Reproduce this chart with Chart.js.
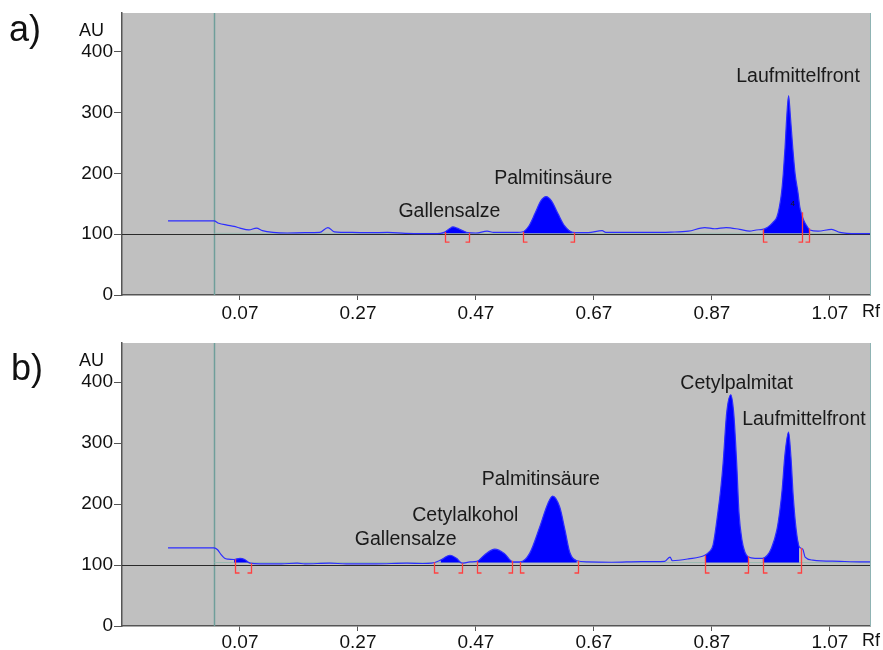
<!DOCTYPE html>
<html lang="de">
<head>
<meta charset="utf-8">
<title>Densitogramm</title>
<script src="https://cdn.jsdelivr.net/npm/chart.js@4.4.1/dist/chart.umd.min.js"></script>
<style>
  body { margin: 0; background: #fff; }
  .panel { position: absolute; left: 0; width: 883px; }
  #panelA { top: 0; height: 320px; }
  #panelB { top: 320px; height: 330px; }
</style>
</head>
<body>
<div class="panel" id="panelA"><canvas id="chartA"></canvas></div>
<div class="panel" id="panelB"><canvas id="chartB"></canvas></div>
<script>
const xTicks = [0.07, 0.27, 0.47, 0.67, 0.87, 1.07];
const yTicks = [0, 100, 200, 300, 400];
const startLineRf = 0.026;

// a)
const rfA = [-0.052, 0.026, 0.034, 0.048, 0.06, 0.07, 0.085, 0.098, 0.108, 0.126, 0.15, 0.18, 0.205, 0.219, 0.23,
  0.26, 0.29, 0.32, 0.35, 0.38, 0.41, 0.416, 0.425, 0.431, 0.438, 0.447, 0.456, 0.47, 0.489, 0.5, 0.52, 0.54,
  0.55, 0.56, 0.57, 0.58, 0.589, 0.598, 0.609, 0.62, 0.634, 0.66, 0.684, 0.69, 0.72, 0.76, 0.8, 0.83, 0.858,
  0.875, 0.894, 0.917, 0.934, 0.945, 0.956, 0.962, 0.969, 0.975, 0.98, 0.984, 0.988, 0.991, 0.994, 0.997, 1.0,
  1.003, 1.007, 1.011, 1.016, 1.019, 1.022, 1.026, 1.03, 1.036, 1.05, 1.073, 1.087, 1.115, 1.138];
const auA = [122, 122, 118, 115, 113, 110, 107, 110, 106, 103, 102, 102.5, 103, 111, 104,
  103, 102.5, 103, 101.5, 101, 101.5, 103, 109, 112, 110, 106, 102.5, 102, 105, 103, 103, 103,
  104, 114, 134, 155, 162, 155, 134, 114, 103, 102.5, 106, 103, 103, 103, 103.5, 105, 111,
  109, 111, 108, 105, 107, 108, 110, 115, 121, 128, 143, 168, 200, 243, 295, 328,
  295, 243, 200, 168, 145, 133, 122, 115, 107, 105, 108, 103, 101, 101];
const bracketsA = [[0.417, 0.458], [0.550, 0.636], [0.956, 1.034]];
const splitsA = [[1.022, 136]];
const labelsA = [
  { text: 'Gallensalze', rf: 0.425, au: 137 },
  { text: 'Palmitinsäure', rf: 0.601, au: 191 },
  { text: 'Laufmittelfront', rf: 1.016, au: 359 },
  { text: '4', rf: 1.007, au: 150, small: true }
];

// b)
const rfB = [-0.052, 0.026, 0.032, 0.038, 0.044, 0.05, 0.06, 0.07, 0.078, 0.087, 0.104, 0.14, 0.167, 0.18, 0.222,
  0.25, 0.3, 0.353, 0.38, 0.395, 0.41, 0.426, 0.437, 0.446, 0.46, 0.472, 0.485, 0.502, 0.518, 0.533,
  0.545, 0.561, 0.578, 0.592, 0.6, 0.612, 0.621, 0.629, 0.641, 0.66, 0.7, 0.75, 0.79, 0.799, 0.803, 0.83,
  0.858, 0.865, 0.872, 0.88, 0.885, 0.889, 0.895, 0.902, 0.907, 0.912, 0.916, 0.921, 0.926, 0.932, 0.943, 0.956,
  0.964, 0.971, 0.98, 0.985, 0.989, 0.994, 1.0, 1.004, 1.008, 1.013, 1.018, 1.024, 1.028, 1.041, 1.087, 1.126, 1.138];
const auB = [128, 128, 125, 117, 111, 109.5, 109, 111, 109, 103, 102, 102, 103, 102, 103,
  102, 102, 103, 102.5, 103, 108, 116, 111, 103, 105, 106, 117, 126, 119, 105,
  105, 119, 162, 201, 213, 195, 157, 121, 107, 105, 104.5, 105.5, 106, 113, 107, 110,
  116, 121, 133, 185, 225, 267, 349, 379, 349, 267, 185, 141, 121, 113, 111, 111,
  116, 128, 157, 188, 223, 283, 318, 277, 211, 157, 130, 126, 113, 108, 106, 105, 105];
const bracketsB = [[0.062, 0.089], [0.399, 0.446], [0.472, 0.531], [0.545, 0.643], [0.858, 0.931], [0.956, 1.021]];
const splitsB = [];
const labelsB = [
  { text: 'Gallensalze', rf: 0.351, au: 141 },
  { text: 'Cetylalkohol', rf: 0.452, au: 181 },
  { text: 'Palmitinsäure', rf: 0.580, au: 240 },
  { text: 'Cetylpalmitat', rf: 0.912, au: 397 },
  { text: 'Laufmittelfront', rf: 1.026, au: 338 }
];

const FONT = '"Liberation Sans", Arial, sans-serif';

// valor de la curva en un Rf (para los corchetes rojos)
function auAt(rf, rfs, aus) {
  for (let i = 1; i < rfs.length; i++) {
    if (rf <= rfs[i]) {
      const t = (rf - rfs[i - 1]) / (rfs[i] - rfs[i - 1]);
      return aus[i - 1] + t * (aus[i] - aus[i - 1]);
    }
  }
  return aus[aus.length - 1];
}

function makeChart(id, cfg) {
  const points = cfg.rf.map((r, i) => ({ x: r, y: cfg.au[i] }));
  // solo los puntos dentro de los corchetes se rellenan
  const fillPoints = cfg.rf.map((r, i) => {
    const inside = cfg.brackets.some(b => r >= b[0] - 0.003 && r <= b[1] + 0.003);
    return { x: r, y: inside ? cfg.au[i] : null };
  });

  const plugin = {
    id: 'chrom',
    beforeDraw(chart) {
      const { ctx, chartArea: a } = chart;
      ctx.save();
      ctx.fillStyle = '#c0c0c0';
      ctx.fillRect(a.left, a.top, a.right - a.left, a.bottom - a.top);
      ctx.restore();
    },
    beforeDatasetsDraw(chart) {
      const { ctx, chartArea: a, scales: { x, y } } = chart;
      ctx.save();
      // linea de aplicacion
      ctx.strokeStyle = '#6f9e9a';
      ctx.lineWidth = 1.5;
      const sx = Math.round(x.getPixelForValue(startLineRf)) + 0.5;
      ctx.beginPath(); ctx.moveTo(sx, a.top); ctx.lineTo(sx, a.bottom); ctx.stroke();
      // linea base clara
      ctx.strokeStyle = '#98b8b0';
      ctx.lineWidth = 1;
      const by = y.getPixelForValue(cfg.fillBase);
      ctx.beginPath(); ctx.moveTo(sx, by); ctx.lineTo(a.right, by); ctx.stroke();
      // linea negra en 100
      ctx.strokeStyle = '#2a2a2a';
      const hy = Math.round(y.getPixelForValue(100)) + 0.5;
      ctx.beginPath(); ctx.moveTo(a.left, hy); ctx.lineTo(a.right, hy); ctx.stroke();
      ctx.restore();
    },
    afterDatasetsDraw(chart) {
      const { ctx, scales: { x, y } } = chart;
      const yBot = y.getPixelForValue(100) + 8;
      ctx.save();
      ctx.strokeStyle = '#ff4040';
      ctx.lineWidth = 1.3;
      const drawMark = (rf, topAu, dir) => {
        const px = Math.round(x.getPixelForValue(rf)) + 0.5;
        ctx.beginPath();
        ctx.moveTo(px, y.getPixelForValue(topAu));
        ctx.lineTo(px, yBot);
        ctx.lineTo(px + dir * 4, yBot);
        ctx.stroke();
      };
      cfg.brackets.forEach(b => {
        drawMark(b[0], auAt(b[0], cfg.rf, cfg.au), 1);
        drawMark(b[1], auAt(b[1], cfg.rf, cfg.au), -1);
      });
      cfg.splits.forEach(s => drawMark(s[0], s[1], -1));
      // nombres de los picos
      ctx.fillStyle = '#1a1a1a';
      ctx.textAlign = 'center';
      ctx.textBaseline = 'middle';
      cfg.labels.forEach(l => {
        ctx.font = (l.small ? '8px ' : '19.5px ') + FONT;
        ctx.fillText(l.text, x.getPixelForValue(l.rf), y.getPixelForValue(l.au));
      });
      ctx.restore();
    },
    afterDraw(chart) {
      const { ctx, chartArea: a } = chart;
      ctx.save();
      // borde derecho
      ctx.strokeStyle = '#8fb3b3';
      ctx.lineWidth = 1;
      ctx.beginPath(); ctx.moveTo(a.right + 0.5, a.top); ctx.lineTo(a.right + 0.5, a.bottom); ctx.stroke();
      ctx.fillStyle = '#111';
      ctx.textBaseline = 'alphabetic';
      ctx.textAlign = 'left';
      ctx.font = '36px ' + FONT;
      ctx.fillText(cfg.letter, cfg.letterX, cfg.letterY);
      ctx.textAlign = 'center';
      ctx.textBaseline = 'middle';
      ctx.font = '18px ' + FONT;
      ctx.fillText('AU', a.left - 30.5, a.top + 18);
      ctx.fillText('Rf', a.right + 1, a.bottom + cfg.rfOffset);
      ctx.restore();
    }
  };

  return new Chart(document.getElementById(id), {
    type: 'line',
    data: {
      datasets: [
        {
          data: points,
          borderColor: '#2d2dff',
          borderWidth: 1.2,
          pointRadius: 0,
          cubicInterpolationMode: 'monotone',
          fill: false
        },
        {
          data: fillPoints,
          borderWidth: 0,
          borderColor: 'rgba(0,0,0,0)',
          backgroundColor: '#0000ff',
          pointRadius: 0,
          cubicInterpolationMode: 'monotone',
          spanGaps: false,
          fill: { value: cfg.fillBase }
        }
      ]
    },
    options: {
      responsive: true,
      maintainAspectRatio: false,
      animation: false,
      layout: { padding: { left: 0, right: 13, top: cfg.padTop, bottom: 0 } },
      plugins: { legend: { display: false }, tooltip: { enabled: false } },
      scales: {
        x: {
          type: 'linear',
          min: -0.13,
          max: 1.138,
          afterBuildTicks: s => { s.ticks = xTicks.map(v => ({ value: v })); },
          afterFit: s => { s.height = cfg.xAxisH; },
          ticks: {
            callback: v => v.toFixed(2),
            font: { family: FONT, size: 19 },
            color: '#111',
            maxRotation: 0,
            autoSkip: false,
            padding: cfg.xPad
          },
          grid: { drawOnChartArea: false, drawTicks: true, tickLength: 5, color: '#555' },
          border: { display: true, color: '#555', width: 1.5 }
        },
        y: {
          min: 0,
          max: 464,
          afterBuildTicks: s => { s.ticks = yTicks.map(v => ({ value: v })); },
          afterFit: s => { s.width = 122; },
          ticks: {
            callback: v => String(v),
            font: { family: FONT, size: 19 },
            color: '#111',
            padding: 1
          },
          grid: { drawOnChartArea: false, drawTicks: true, tickLength: 8, color: '#555' },
          border: { display: true, color: '#555', width: 1.5 }
        }
      }
    },
    plugins: [plugin]
  });
}

makeChart('chartA', {
  rf: rfA, au: auA, brackets: bracketsA, splits: splitsA, labels: labelsA,
  fillBase: 101.5, letter: 'a)', letterX: 9, letterY: 41,
  padTop: 13, xAxisH: 25, xPad: 2, rfOffset: 17.5
});

makeChart('chartB', {
  rf: rfB, au: auB, brackets: bracketsB, splits: splitsB, labels: labelsB,
  fillBase: 104, letter: 'b)', letterX: 11, letterY: 60,
  padTop: 23, xAxisH: 24, xPad: 0, rfOffset: 15.3
});
</script>
</body>
</html>
